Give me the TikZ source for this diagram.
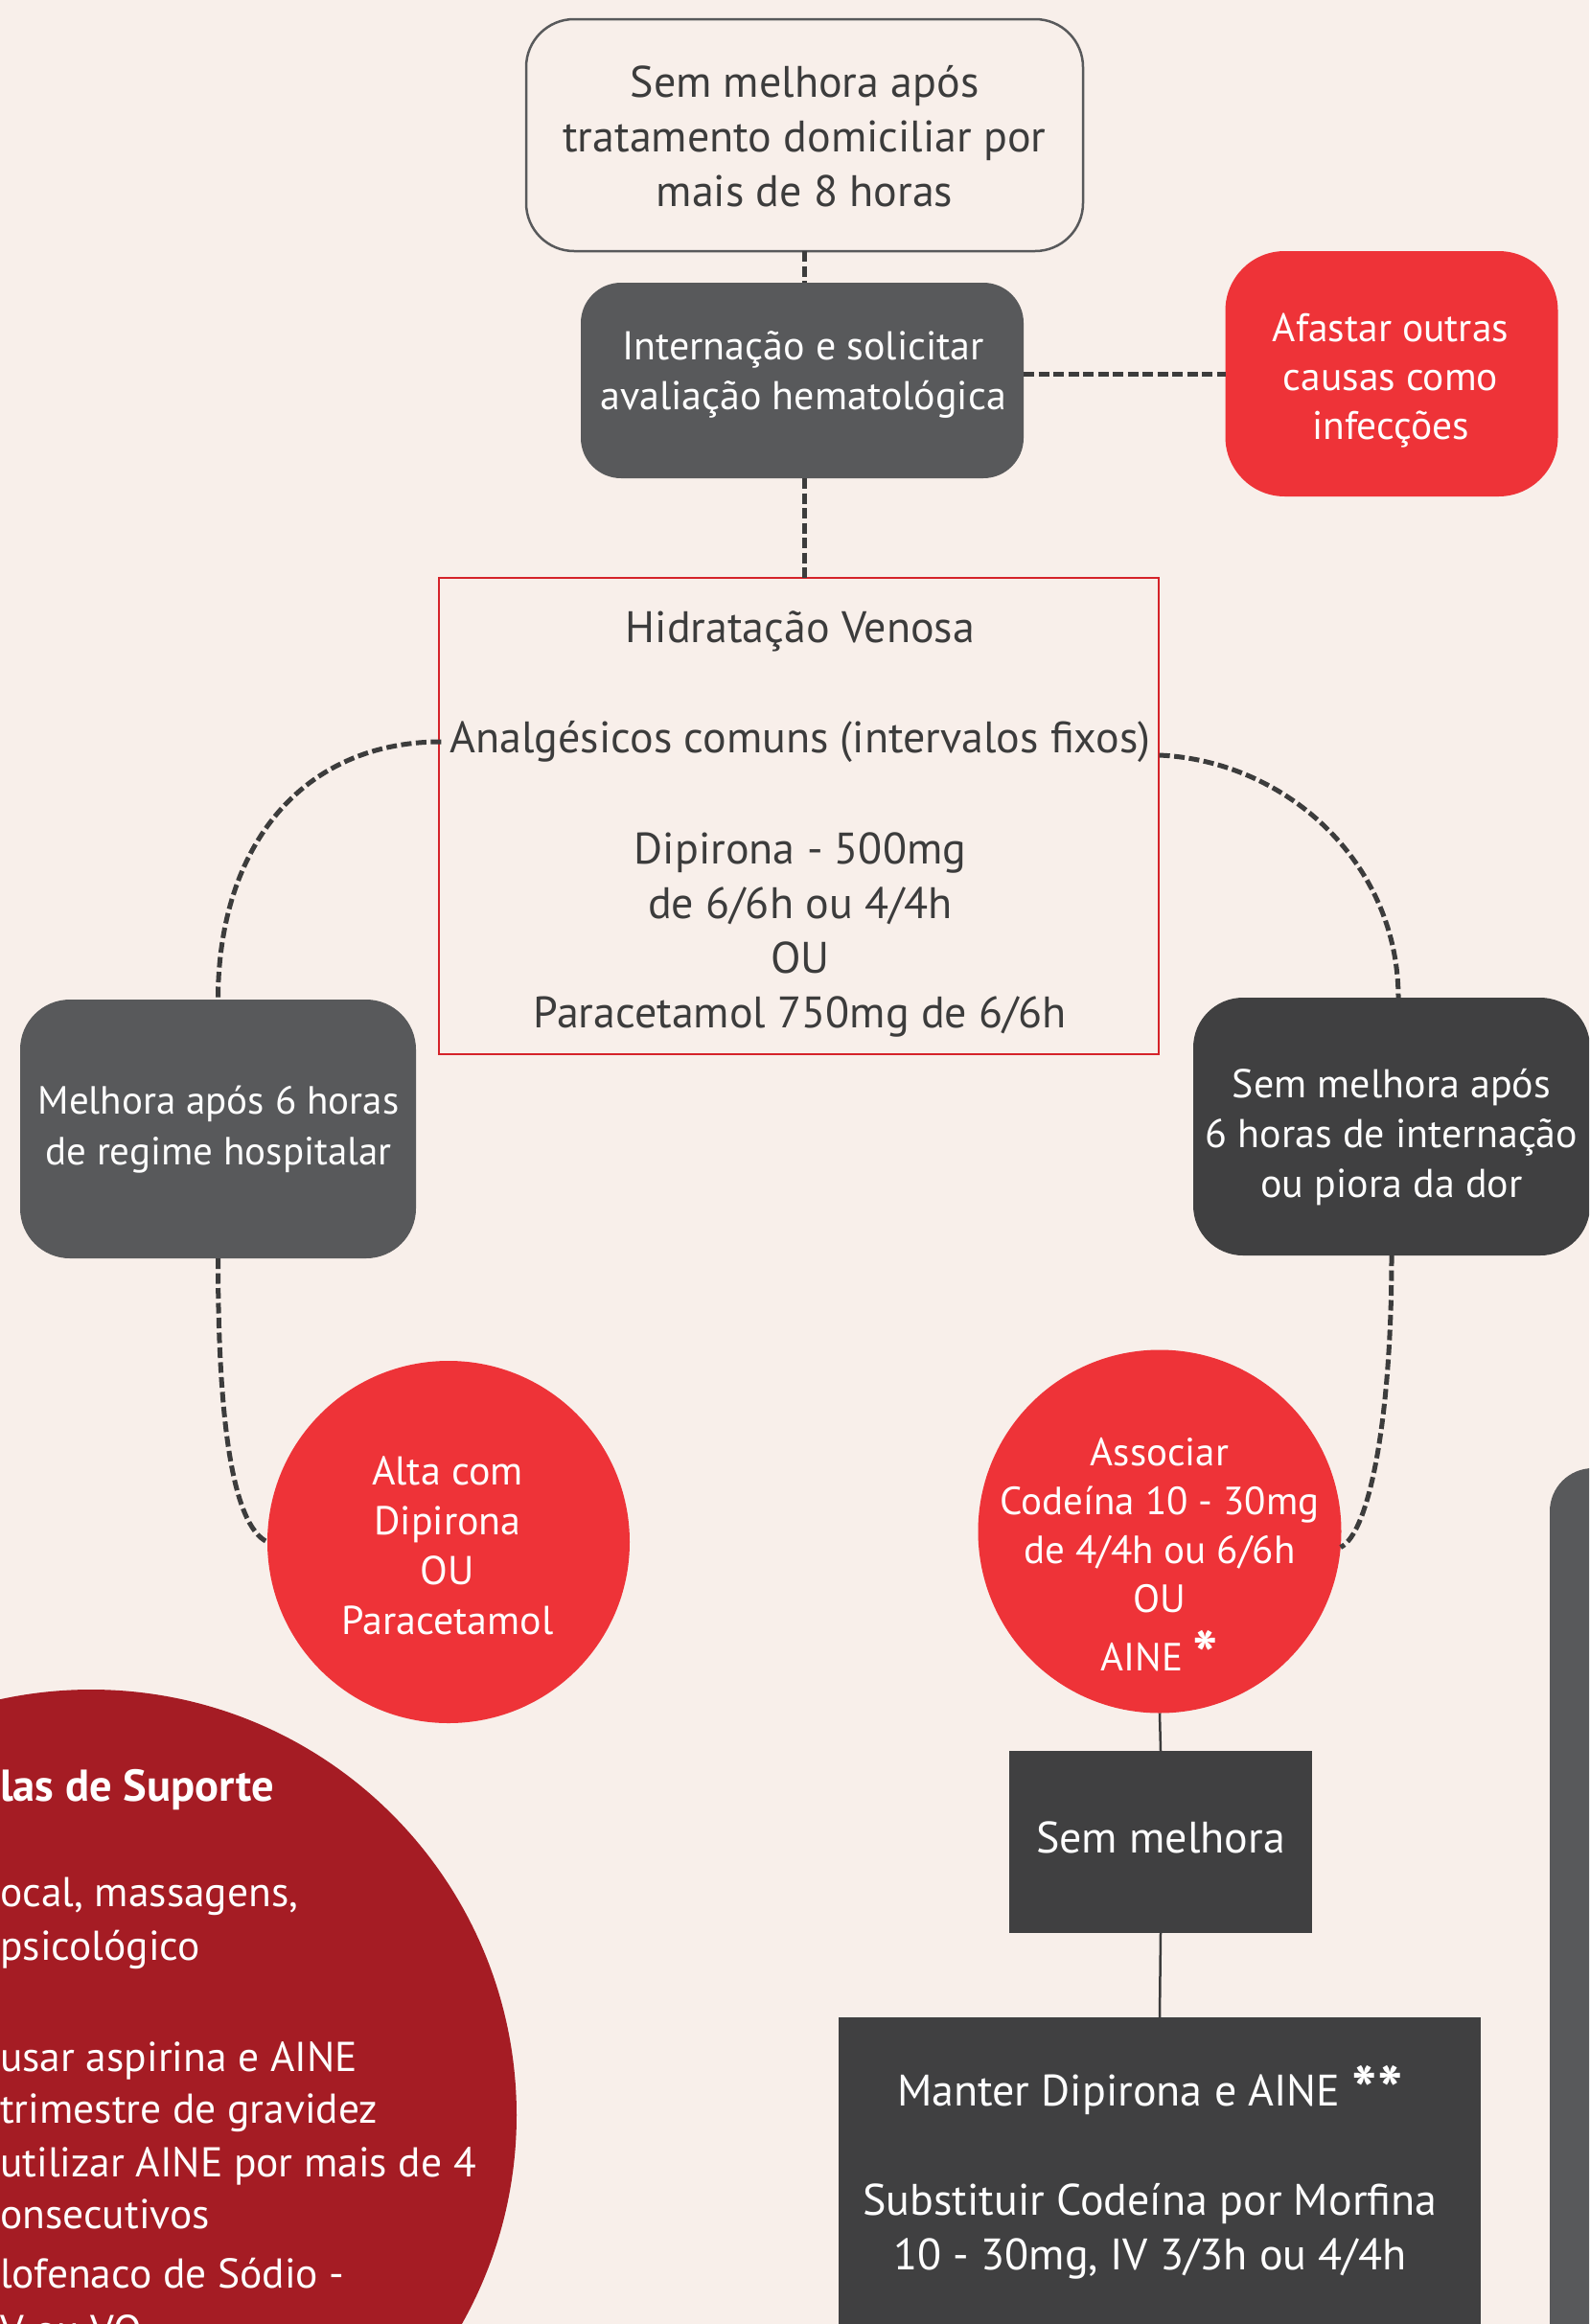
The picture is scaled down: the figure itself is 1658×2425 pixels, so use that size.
\documentclass[tikz,border=0pt]{standalone}
\usepackage{fontspec}
\setmainfont{PT Sans}
\usetikzlibrary{calc}
\definecolor{bg}{HTML}{F8EFEA}
\definecolor{txt}{HTML}{3C3C3C}
\definecolor{gry}{HTML}{58595B}
\definecolor{drk}{HTML}{404041}
\definecolor{brt}{HTML}{EE3338}
\definecolor{dred}{HTML}{A51C24}
\definecolor{lred}{HTML}{D5232A}
\newcommand{\bigast}[1]{\smash{\fontsize{56}{56}\selectfont\bfseries\raisebox{-9pt}{\scalebox{1.25}{#1}}}}
\begin{document}
\begin{tikzpicture}[x=1pt,y=-1pt,
  lbl/.style={font=\fontsize{46}{57}\selectfont, align=center, inner sep=0pt, text=txt},
  wlbl/.style={lbl, text=white},
  klbl/.style={font=\fontsize{42}{52}\selectfont, align=center, inner sep=0pt, text=white},
  afl/.style={font=\fontsize{41.5}{51}\selectfont, align=center, inner sep=0pt, text=white},
  slbl/.style={font=\fontsize{42}{52}\selectfont, align=center, inner sep=0pt, text=white},
  side/.style={font=\fontsize{43.5}{55}\selectfont, inner sep=0pt, text=white, anchor=base west},
  dashc/.style={draw=txt, line width=5pt, dash pattern=on 11pt off 4.5pt},
  solidc/.style={draw=txt, line width=2.5pt},
  box/.style={inner sep=0pt, outer sep=0pt},
]
\useasboundingbox (0,0) rectangle (1658,2425);
\fill[bg] (0,0) rectangle (1658,2425);
\begin{scope}
\clip (0,0) rectangle (1658,2425);
% decorative shapes cut by the page edge
\fill[dred] (95,2207) circle[radius=444];
\fill[gry, rounded corners=45pt] (1617,1532) rectangle (1760,2520);

% top box
\node[box, draw=gry, line width=2.5pt, fill=bg, rounded corners=50pt, minimum width=581, minimum height=242] (top) at (839.5,141) {};
\node[lbl] (topT) at (839.5,142) {Sem melhora após\\tratamento domiciliar por\\mais de 8 horas};

% internacao
\node[box, fill=gry, rounded corners=42pt, minimum width=462, minimum height=204] (int) at (837,397) {};
\node[klbl] (intT) at (838,391) {Internação e solicitar\\avaliação hematológica};

% afastar
\node[box, fill=brt, rounded corners=62pt, minimum width=347, minimum height=256] (afa) at (1452,390) {};
\node[afl] (afaT) at (1451,397) {Afastar outras\\causas como\\infecções};

% red bordered box
\node[box, draw=lred, line width=2pt, minimum width=751, minimum height=497] (rbox) at (833.5,851.5) {};
\node[lbl] (hv) at (835,659) {Hidratação Venosa};
\node[lbl, inner xsep=9pt] (an) at (835,774) {Analgésicos comuns (intervalos fixos)};
\node[lbl] (dp) at (835,975) {Dipirona - 500mg\\de 6/6h ou 4/4h\\OU\\Paracetamol 750mg de 6/6h};

% melhora
\node[box, fill=gry, rounded corners=52pt, minimum width=413, minimum height=270] (mel) at (227.5,1178) {};
\node[slbl, font=\fontsize{41}{53}\selectfont] (melT) at (228,1179) {Melhora após 6 horas\\de regime hospitalar};

% sem melhora apos 6 horas
\node[box, fill=drk, rounded corners=52pt, minimum width=414, minimum height=269] (rt) at (1452,1175.5) {};
\node[slbl] (rtT) at (1452,1187) {Sem melhora após\\6 horas de internação\\ou piora da dor};

% circles
\node[box, circle, fill=brt, minimum size=378] (alta) at (468,1609) {};
\node[slbl] (altaT) at (467,1613) {Alta com\\Dipirona\\OU\\Paracetamol};
\node[box, circle, fill=brt, minimum size=379] (asc) at (1210,1598) {};
\node[slbl, font=\fontsize{41}{51}\selectfont] (ascT) at (1210,1622) {Associar\\Codeína 10 - 30mg\\de 4/4h ou 6/6h\\OU\\[10pt]AINE \bigast{*}};

% sem melhora / manter
\node[box, fill=drk, minimum width=316, minimum height=190] (sm) at (1211,1922) {};
\node[wlbl] (smT) at (1211,1917) {Sem melhora};
\node[box, fill=drk, minimum width=670, minimum height=400] (man) at (1210,2305) {};
\node[wlbl] (manT) at (1200,2271) {Manter Dipirona e AINE \bigast{**}\\[57pt]Substituir Codeína por Morfina\\10 - 30mg, IV 3/3h ou 4/4h};

% text in the dark red circle (cut by the page edge)
\node[side, font=\fontsize{46.5}{55}\selectfont\bfseries] (s1) at (0,1879) {las de Suporte};
\node[side] (s2) at (0,1989) {ocal, massagens,};
\node[side] (s3) at (0,2045) {psicológico};
\node[side] (s4) at (0,2161) {usar aspirina e AINE};
\node[side] (s5) at (0,2215) {trimestre de gravidez};
\node[side] (s6) at (0,2271) {utilizar AINE por mais de 4};
\node[side] (s7) at (0,2325) {onsecutivos};
\node[side] (s8) at (0,2387) {lofenaco de Sódio -};
\node[side] (s9) at (0,2446) {V ou VO};
\end{scope}

% connectors
\draw[dashc] (top.south -| topT.center) -- (int.north -| topT.center);
\draw[dashc] (int.south -| topT.center) -- (rbox.north -| topT.center);
\draw[dashc] (afa.west -| int.east) -- (afa.west);
\draw[dashc] (an.west) .. controls +(-145,0) and +(0,-160) .. (mel.north);
\draw[dashc] ($(an.east)+(0,14)$) .. controls +(133,6) and +(0,-140) .. ($(rt.north)+(7,0)$);
\draw[dashc] (mel.south) .. controls +(0,167) and +(-37,-18) .. (alta.west);
\draw[dashc] (rt.south) .. controls +(0,170) and +(30,-15) .. (asc.-5);
\draw[solidc] (asc.south) -- (sm.north);
\draw[solidc] (sm.south) -- (man.north);
\end{tikzpicture}
\end{document}
